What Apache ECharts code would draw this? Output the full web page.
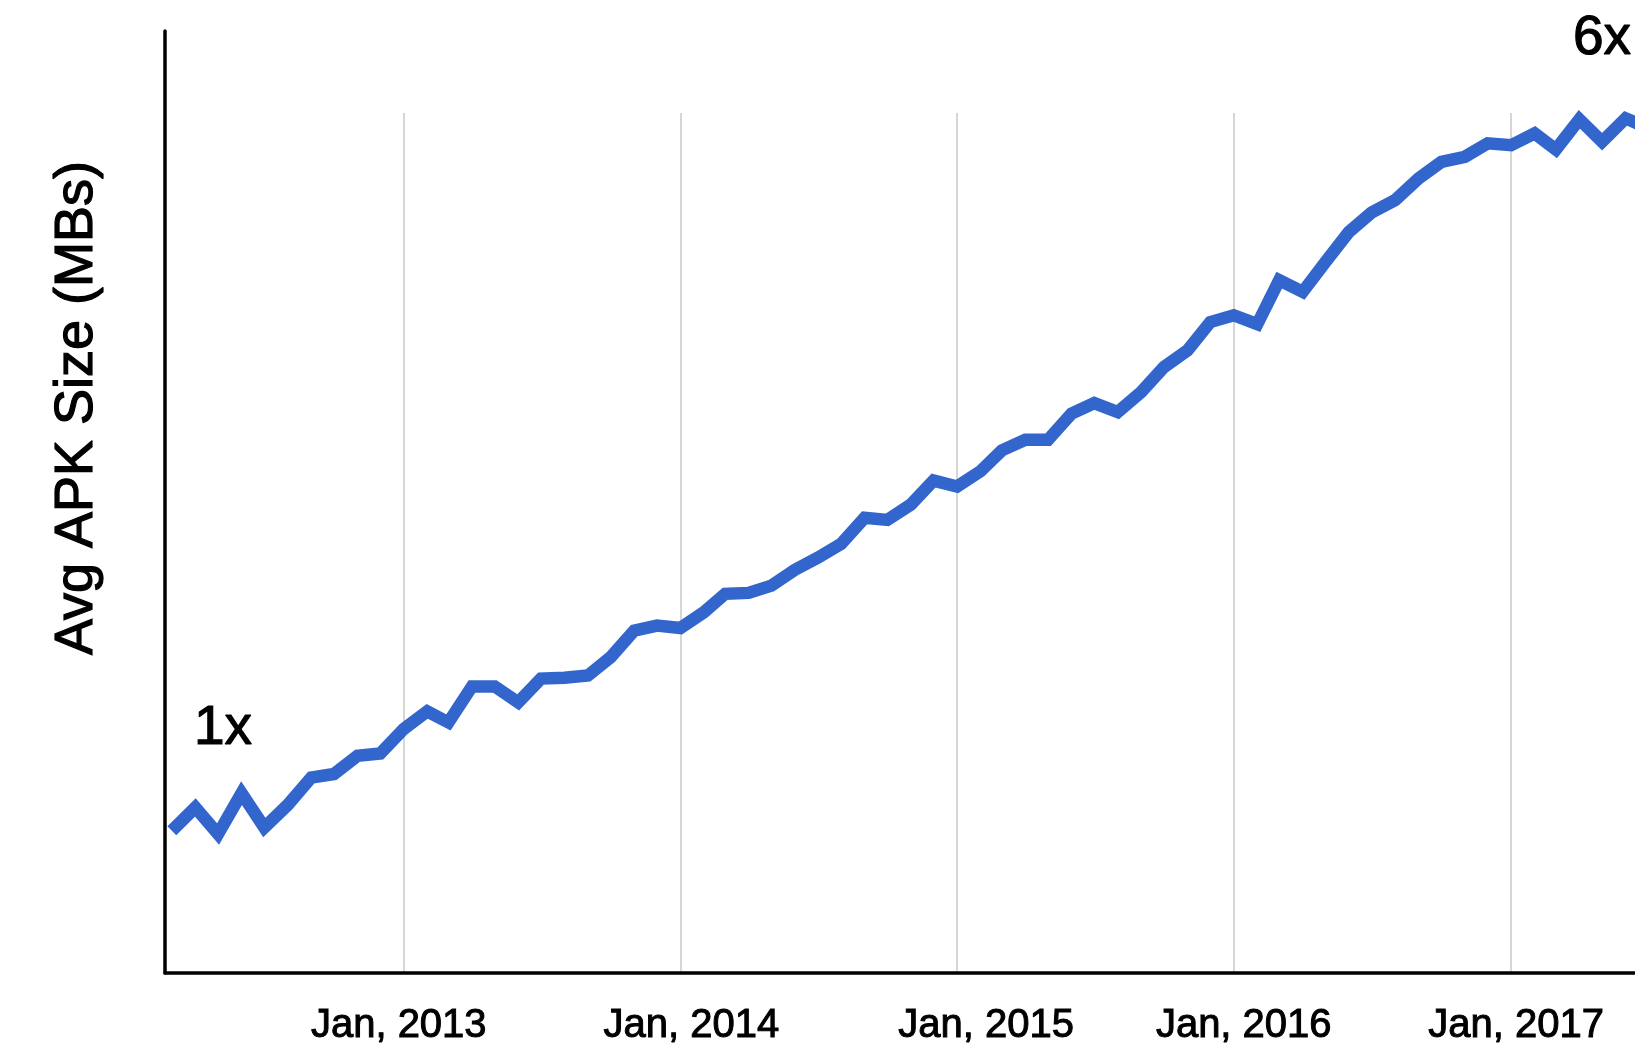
<!DOCTYPE html>
<html>
<head>
<meta charset="utf-8">
<title>Avg APK Size</title>
<script src="https://cdn.jsdelivr.net/npm/echarts@6/dist/echarts.min.js"></script>
<style>
  html, body { margin: 0; padding: 0; background: #fff; }
  #chart { width: 1635px; height: 1050px; }
</style>
</head>
<body>
<div id="chart"></div>
<script>
// monthly samples, Mar 2012 .. Jul 2017
var months = [
  '2012-03', '2012-04', '2012-05', '2012-06', '2012-07', '2012-08', '2012-09', '2012-10', '2012-11', '2012-12',
  '2013-01', '2013-02', '2013-03', '2013-04', '2013-05', '2013-06', '2013-07', '2013-08', '2013-09', '2013-10', '2013-11', '2013-12',
  '2014-01', '2014-02', '2014-03', '2014-04', '2014-05', '2014-06', '2014-07', '2014-08', '2014-09', '2014-10', '2014-11', '2014-12',
  '2015-01', '2015-02', '2015-03', '2015-04', '2015-05', '2015-06', '2015-07', '2015-08', '2015-09', '2015-10', '2015-11', '2015-12',
  '2016-01', '2016-02', '2016-03', '2016-04', '2016-05', '2016-06', '2016-07', '2016-08', '2016-09', '2016-10', '2016-11', '2016-12',
  '2017-01', '2017-02', '2017-03', '2017-04', '2017-05', '2017-06', '2017-07'
];
// avg apk size (MB)
var apkSize = [
  6.04, 7.03, 5.90, 7.64, 6.18, 7.14, 8.30, 8.45, 9.22, 9.32,
  10.36, 11.11, 10.64, 12.17, 12.17, 11.49, 12.50, 12.54, 12.63, 13.41, 14.54, 14.75,
  14.65, 15.32, 16.10, 16.14, 16.45, 17.12, 17.63, 18.22, 19.33, 19.24, 19.89, 20.91,
  20.66, 21.31, 22.19, 22.64, 22.64, 23.75, 24.20, 23.82, 24.67, 25.73, 26.44, 27.64,
  27.93, 27.55, 29.42, 28.92, 30.19, 31.47, 32.29, 32.82, 33.74, 34.44, 34.66, 35.23,
  35.15, 35.65, 34.97, 36.25, 35.30, 36.29, 35.88
];
var xRange = ['2012-02-21', '2017-06-20'];
var yMax = 40;
var yTitle = 'Avg APK Size (MBs)';
var notes = ['1x', '6x'];
// the year labels in the original sit a little off their grid lines (px)
var labelYears = [2013, 2014, 2015, 2016, 2017];
var labelNudge = [-5, 11, 29, 10, 5];

function ts(s) {
  var p = s.split('-');
  return Date.UTC(+p[0], +p[1] - 1, +(p[2] || 1));
}

var seriesData = months.map(function (m, i) {
  return [ts(m), apkSize[i]];
});

var chart = echarts.init(document.getElementById('chart'));

var FONT = '"Liberation Sans", Arial, sans-serif';

var baseX = {
  type: 'time',
  min: ts(xRange[0]),
  max: ts(xRange[1]),
  axisTick: { show: false }
};

// rich styles to nudge each year label
var labelRich = {};
labelYears.forEach(function (y, i) {
  var n = labelNudge[i];
  labelRich['y' + y] = {
    fontSize: 40,
    fontFamily: FONT,
    color: '#000',
    textBorderColor: '#000',
    textBorderWidth: 1,
    padding: n >= 0 ? [0, 0, 0, 2 * n] : [0, -2 * n, 0, 0]
  };
});

function note(text, x, y, size, rot) {
  return {
    type: 'text',
    x: x, y: y,
    rotation: rot || 0,
    style: {
      text: text,
      font: size + 'px ' + FONT,
      fill: '#000',
      stroke: '#000',
      lineWidth: 1.2,
      textAlign: rot ? 'center' : 'left',
      textVerticalAlign: 'middle'
    }
  };
}

var option = {
  animation: false,
  useUTC: true,
  backgroundColor: '#fff',
  grid: [
    // axes + line
    { left: 165, right: -5, top: 31, bottom: 77, outerBoundsMode: 'none', containLabel: false },
    // vertical grid lines start lower
    { left: 165, right: -5, top: 113, bottom: 77, outerBoundsMode: 'none', containLabel: false }
  ],
  xAxis: [
    Object.assign({}, baseX, {
      gridIndex: 0,
      axisLine: { show: true, lineStyle: { color: '#000', width: 3.5 } },
      splitLine: { show: false },
      axisLabel: {
        show: true,
        color: '#000',
        fontSize: 40,
        fontFamily: FONT,
        textBorderColor: '#000',
        textBorderWidth: 1,
        margin: 33,
        showMinLabel: false,
        showMaxLabel: false,
        rich: labelRich,
        formatter: function (val) {
          var d = new Date(val);
          if (d.getUTCMonth() === 0 && d.getUTCDate() === 1) {
            var y = d.getUTCFullYear();
            if (labelRich['y' + y]) return '{y' + y + '|Jan, ' + y + '}';
            return 'Jan, ' + y;
          }
          return '';
        }
      },
      z: 5
    }),
    Object.assign({}, baseX, {
      gridIndex: 1,
      axisLine: { show: false },
      axisLabel: { show: false },
      splitLine: { show: true, lineStyle: { color: '#d6d6d6', width: 2 } },
      z: 0
    })
  ],
  yAxis: [
    {
      type: 'value', gridIndex: 0, min: 0, max: yMax,
      axisLine: { show: true, lineStyle: { color: '#000', width: 3.5 } },
      axisTick: { show: false },
      axisLabel: { show: false },
      splitLine: { show: false },
      z: 5
    },
    {
      type: 'value', gridIndex: 1, min: 0, max: yMax, show: false,
      splitLine: { show: false }
    }
  ],
  series: [
    {
      type: 'line',
      xAxisIndex: 0,
      yAxisIndex: 0,
      data: seriesData,
      showSymbol: false,
      symbol: 'none',
      clip: true,
      lineStyle: { color: '#3366cc', width: 12.5, join: 'miter', cap: 'butt' },
      z: 3
    }
  ],
  graphic: [
    note(yTitle, 77, 408, 54, Math.PI / 2),
    note(notes[0], 194, 729, 55),
    note(notes[1], 1573, 39, 55)
  ]
};

chart.setOption(option);
</script>
</body>
</html>
